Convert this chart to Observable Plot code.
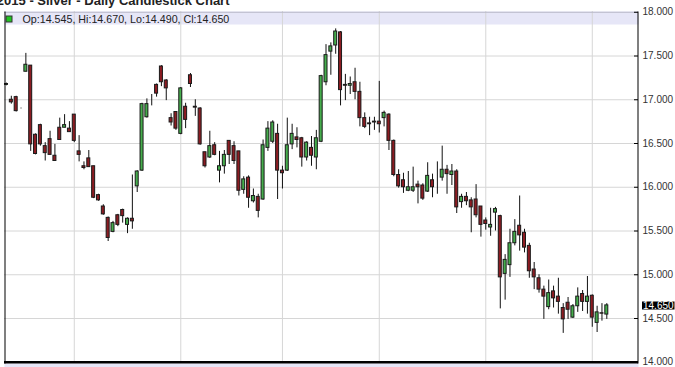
<!DOCTYPE html>
<html><head><meta charset="utf-8">
<script src="https://cdn.jsdelivr.net/npm/d3@7"></script>
<script src="https://cdn.jsdelivr.net/npm/@observablehq/plot@0.6"></script>
<style>html,body{margin:0;padding:0;background:#fff;overflow:hidden}</style>
</head><body><div id="chart"></div>
<script>
const title = "2015 - Silver - Daily Candlestick Chart";
const opens = [17.17,17.00,17.03,16.90,17.32,17.39,16.60,16.71,16.47,16.55,16.36,16.68,16.68,16.67,16.83,16.41,16.24,16.33,16.24,15.91,
15.78,15.65,15.49,15.68,15.74,15.57,15.64,16.01,16.19,16.80,17.05,17.17,17.38,17.22,16.79,16.86,16.61,16.92,17.28,16.92,
16.90,16.40,16.34,16.48,16.19,16.24,16.53,16.47,16.41,15.97,16.11,15.84,15.89,15.86,16.45,16.52,16.61,16.19,16.19,16.49,
16.57,16.56,16.34,16.45,16.34,16.52,17.20,17.55,17.62,17.77,17.17,17.16,17.20,17.09,16.79,16.73,16.75,16.75,16.79,16.83,
16.53,16.14,16.08,15.96,15.96,16.03,16.02,15.95,16.08,16.00,16.11,16.20,16.14,16.18,15.83,15.89,15.85,15.86,15.78,15.62,
15.54,15.71,15.67,15.01,15.11,15.36,15.56,15.48,15.33,15.06,14.96,14.83,14.63,14.81,14.75,14.62,14.68,14.51,14.64,14.78,
14.69,14.76,14.45,14.56,14.545];
const highs = [17.19,17.04,17.04,16.905,17.53,17.39,16.61,16.72,16.51,16.64,16.49,16.79,16.83,16.75,16.83,16.59,16.29,16.42,16.24,15.92,
15.80,15.66,15.61,15.69,15.75,15.65,16.14,16.19,16.96,17.01,17.06,17.18,17.39,17.23,16.84,16.86,17.14,16.96,17.30,17.00,
16.91,16.40,16.64,16.51,16.41,16.42,16.53,16.52,16.41,16.12,16.13,15.98,15.92,16.54,16.75,16.76,16.72,16.24,16.79,16.72,
16.68,16.57,16.52,16.58,16.65,17.28,17.63,17.65,17.81,17.78,17.29,17.26,17.36,17.20,16.85,16.80,16.80,17.21,16.87,16.84,
16.54,16.20,16.16,16.18,16.23,16.07,16.04,16.28,16.15,16.29,16.47,16.25,16.26,16.20,15.92,15.94,15.88,16.03,15.78,15.65,
15.76,15.77,15.68,15.23,15.52,15.63,15.90,15.52,15.36,15.14,15.00,14.87,14.94,14.87,14.96,14.67,14.74,14.66,14.85,14.82,
14.98,14.77,14.64,14.67,14.670];
const lows = [17.16,16.95,16.86,16.895,17.32,16.41,16.37,16.47,16.30,16.37,16.30,16.54,16.68,16.63,16.51,16.29,16.20,16.23,15.87,15.84,
15.68,15.38,15.48,15.55,15.59,15.47,15.52,15.94,16.18,16.79,16.93,17.03,17.15,16.99,16.70,16.65,16.60,16.67,17.14,16.81,
16.48,16.22,16.33,16.36,16.05,16.15,16.26,16.26,15.90,15.92,15.76,15.82,15.65,15.85,16.41,16.50,15.86,15.98,16.18,16.43,
16.45,16.23,16.30,16.24,16.20,16.51,17.16,17.28,17.52,16.93,16.99,17.06,17.00,16.69,16.67,16.59,16.65,16.62,16.69,16.42,
16.12,15.99,15.93,15.95,15.94,15.81,15.85,15.94,15.88,15.92,16.07,15.92,16.02,15.70,15.76,15.79,15.48,15.65,15.43,15.51,
15.44,15.50,14.61,14.71,14.97,15.33,15.27,15.25,14.96,14.83,14.79,14.49,14.60,14.62,14.55,14.33,14.49,14.50,14.57,14.58,
14.55,14.40,14.34,14.47,14.490];
const closes = [17.18,16.97,16.87,16.90,17.40,16.49,16.38,16.49,16.39,16.37,16.30,16.54,16.71,16.63,16.53,16.37,16.22,16.23,15.88,15.85,
15.69,15.42,15.59,15.57,15.67,15.64,15.61,16.18,16.95,16.95,17.05,17.07,17.20,17.13,16.74,16.67,17.13,16.77,17.18,16.91,
16.49,16.24,16.47,16.37,16.24,16.37,16.37,16.30,15.96,16.09,15.88,15.90,15.73,16.48,16.67,16.74,16.19,16.16,16.48,16.61,
16.54,16.34,16.51,16.36,16.56,17.27,17.51,17.61,17.78,17.11,17.16,17.18,17.09,16.79,16.69,16.72,16.74,16.72,16.85,16.53,
16.14,16.01,16.00,16.00,16.00,16.00,15.87,16.13,16.00,16.00,16.20,16.15,16.18,15.77,15.89,15.84,15.77,15.68,15.57,15.58,
15.57,15.75,14.97,15.17,15.36,15.49,15.45,15.31,15.04,14.97,14.83,14.75,14.79,14.73,14.69,14.49,14.60,14.64,14.75,14.69,
14.75,14.51,14.57,14.555,14.650];
const yTicks = [14, 14.5, 15, 15.5, 16, 16.5, 17, 17.5, 18];
const monthStarts = [14, 36, 57, 77, 99, 121];

const rows = opens.map((o, i) => ({i, open: o, high: highs[i], low: lows[i], close: closes[i]}));
const last = rows[rows.length - 1];
const header = `Op:${last.open.toFixed(3)}, Hi:${last.high.toFixed(3)}, Lo:${last.low.toFixed(3)}, Cl:${last.close.toFixed(3)}`;

const W = 675, H = 367, mL = 4, mR = 37, mT = 11, mB = 4;
const frameW = W - mL - mR, frameH = H - mT - mB;
const up = "#45ad4c", down = "#8c1c22", band = "#e6e6f7", grid = "#d6d6d6";

const chart = Plot.plot({
  width: W, height: H,
  marginLeft: mL, marginRight: mR, marginTop: mT, marginBottom: mB,
  x: {domain: [0, rows.length - 1], range: [6, 606.3], axis: null},
  y: {domain: [14, 18], range: [361.75, 11.75], axis: null},
  style: {background: "#fff", fontFamily: "'Liberation Sans', Arial, sans-serif", fontSize: "10px", color: "#222"},
  marks: [
    Plot.frame({fill: band, stroke: null, insetBottom: frameH - 13}),
    Plot.frame({fill: band, stroke: null, insetTop: frameH, insetBottom: -4}),
    Plot.ruleY(yTicks.filter(d => d > 14 && d < 18), {stroke: grid}),
    Plot.ruleX(monthStarts, {stroke: grid}),
    Plot.ruleY([18], {stroke: "#b8b8c8"}),
    Plot.ruleX(rows, {x: "i", y1: "low", y2: "high", stroke: "#111", strokeWidth: 1}),
    Plot.rect(rows, {x1: d => d.i - 0.31, x2: d => d.i + 0.31, y1: "open", y2: "close",
      fill: d => d.close >= d.open ? up : down, stroke: "#1a1a1a", strokeWidth: 1}),
    Plot.frame({fill: "#000", stroke: null, insetRight: frameW - 1}),
    Plot.frame({fill: "#000", stroke: null, insetLeft: frameW - 1}),
    Plot.ruleY([14], {stroke: "#000", strokeWidth: 2.5}),
    Plot.ruleY(yTicks, {stroke: "#000", insetLeft: frameW - 4}),
    Plot.text(yTicks, {y: d => d, text: d => d.toFixed(3), frameAnchor: "right", textAnchor: "start", dx: 4, fill: "#333", fontSize: 10}),
    Plot.ruleY([last.close], {stroke: "#000", strokeWidth: 8, insetLeft: frameW + 4, insetRight: -36.5}),
    Plot.text([last.close], {y: d => d, text: d => d.toFixed(3), frameAnchor: "right", textAnchor: "start", dx: 4.5, fill: "#fff", fontSize: 10}),
    Plot.frame({fill: "#22c422", stroke: "#333", insetLeft: 1.5, insetRight: frameW - 7.5, insetTop: 4.5, insetBottom: frameH - 10.5}),
    Plot.text([header], {frameAnchor: "top-left", dx: 18, dy: 11.5, lineAnchor: "bottom", textAnchor: "start", fontSize: 10.7, fill: "#222"}),
    Plot.text([title], {frameAnchor: "top-left", dx: 225, dy: -6.5, lineAnchor: "bottom", textAnchor: "end", fontSize: 13, fontWeight: "bold", fill: "#222"})
  ]
});
document.getElementById("chart").appendChild(chart);
</script>
</body></html>
